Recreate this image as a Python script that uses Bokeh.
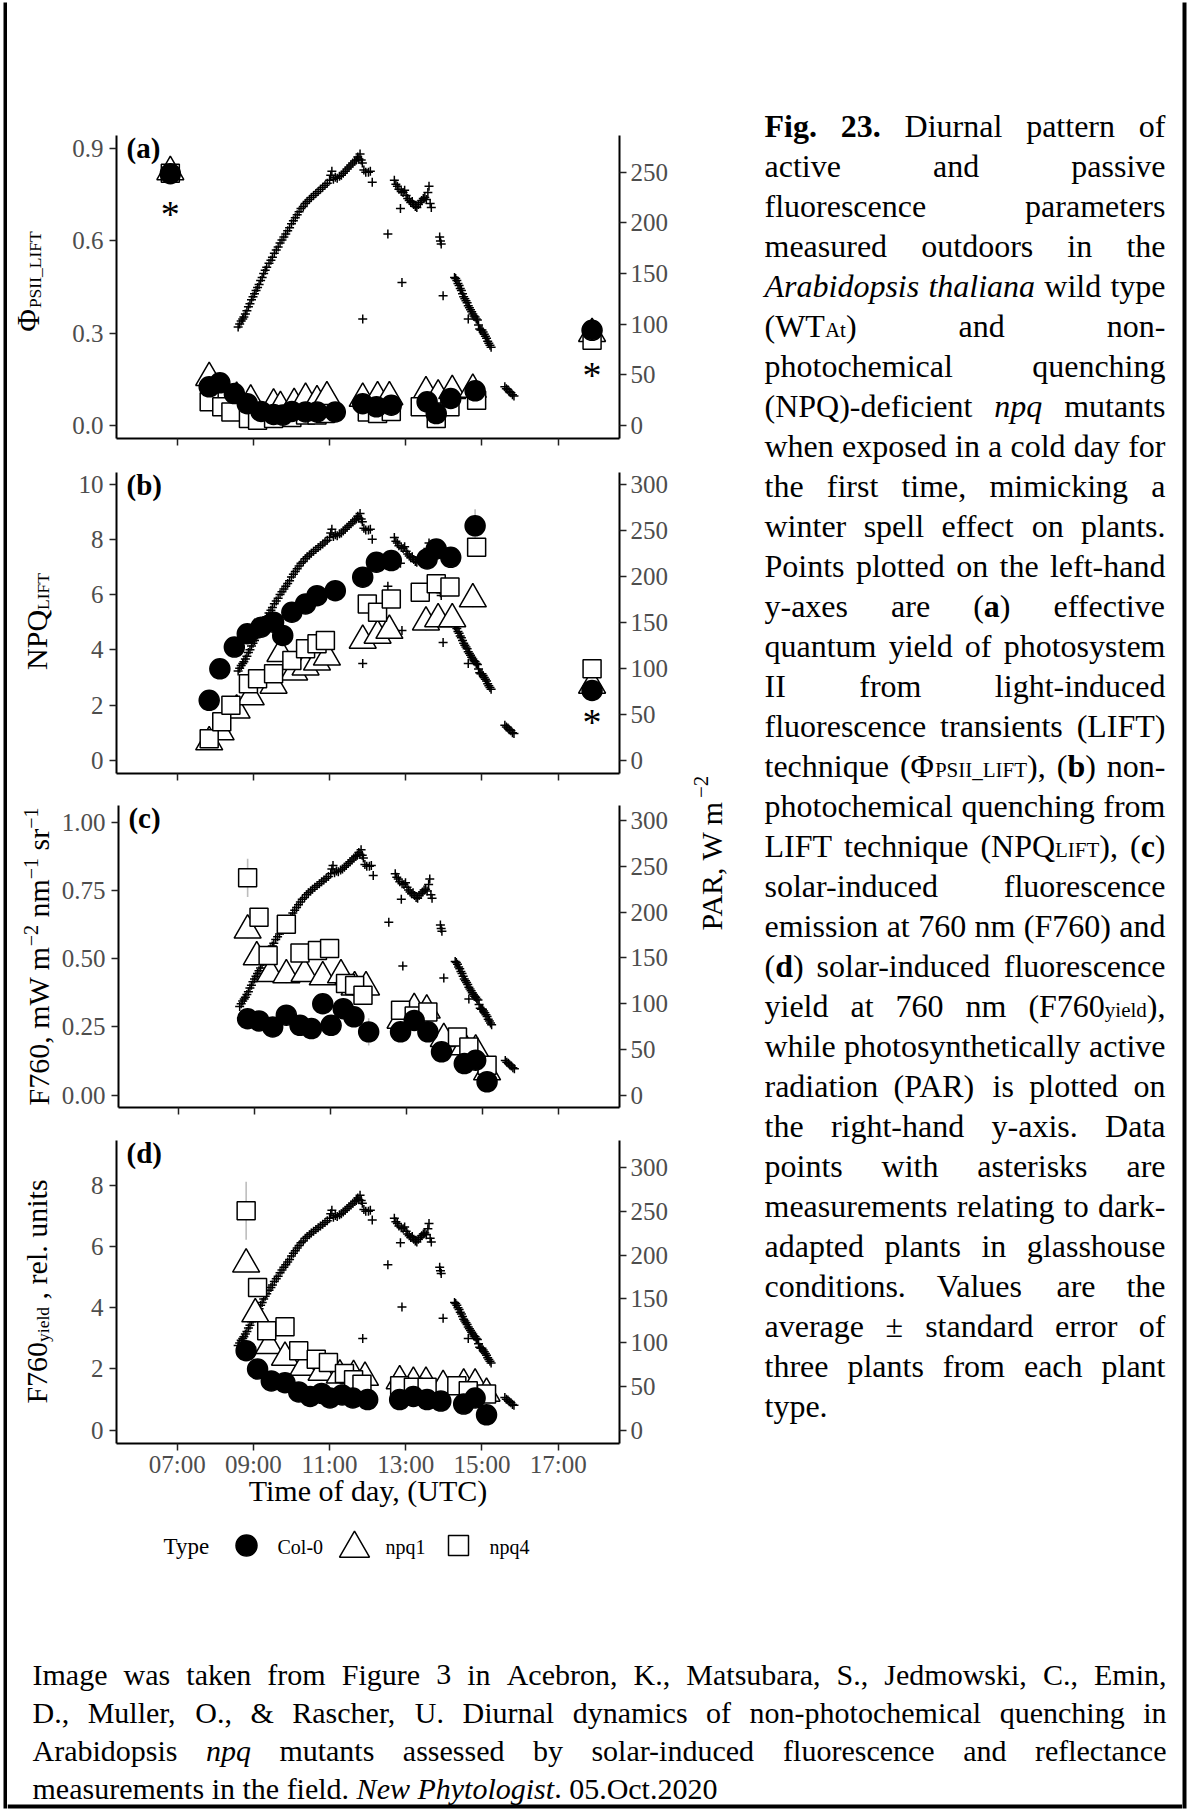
import math, re
from bokeh.plotting import figure
from bokeh.models import Range1d, LinearAxis, FixedTicker, Label, PrintfTickFormatter
from bokeh.layouts import column, row
from bokeh.embed import file_html
from bokeh.resources import INLINE
from bokeh.core.properties import value

# ====================== DATA ======================
hour_ticks = [7, 9, 11, 13, 15, 17]
hour_labels = ["07:00", "09:00", "11:00", "13:00", "15:00", "17:00"]
plant_types = ["Col-0", "npq1", "npq4"]
x_title = "Time of day, (UTC)"

# PAR (W m-2), right-hand axis, time in hours UTC
par_t = [8.60, 8.64, 8.68, 8.72, 8.75, 8.79, 8.83, 8.87, 8.91, 8.95, 8.99, 9.03, 9.07, 9.11, 9.15, 9.19,
         9.23, 9.27, 9.31, 9.35, 9.41, 9.46, 9.50, 9.55, 9.60, 9.65, 9.70, 9.75, 9.80, 9.85, 9.90, 9.95,
         10.00, 10.05, 10.10, 10.15, 10.20, 10.25, 10.31, 10.36, 10.41, 10.47, 10.52, 10.58, 10.64, 10.70,
         10.76, 10.82, 10.88, 10.94, 11.00, 11.03, 11.06, 11.10, 11.15, 11.20, 11.26, 11.31, 11.36, 11.41,
         11.46, 11.51, 11.56, 11.61, 11.66, 11.70, 11.74, 11.77, 11.80, 11.83, 11.86, 11.87, 11.90, 11.95,
         12.02, 12.07, 12.12, 12.53, 12.70, 12.74, 12.78, 12.82, 12.86, 12.88, 12.90, 12.93, 12.97, 13.01,
         13.05, 13.09, 13.13, 13.17, 13.21, 13.25, 13.29, 13.33, 13.38, 13.42, 13.46, 13.50, 13.54, 13.58,
         13.61, 13.64, 13.67, 13.89, 13.91, 13.93, 13.98, 14.28, 14.31, 14.34, 14.37, 14.40, 14.43, 14.46,
         14.49, 14.52, 14.55, 14.58, 14.61, 14.64, 14.64, 14.67, 14.70, 14.73, 14.76, 14.79, 14.82, 14.85,
         14.88, 14.91, 14.94, 14.97, 15.00, 15.03, 15.06, 15.09, 15.12, 15.15, 15.18, 15.21, 15.24, 15.60,
         15.64, 15.68, 15.72, 15.76, 15.80, 15.84]
par_v = [97, 100, 103, 105, 107, 110, 113, 117, 120, 124, 127, 130, 133, 136, 139, 143,
         146, 150, 153, 156, 160, 163, 166, 170, 173, 176, 180, 183, 186, 189, 192, 195,
         199, 202, 205, 208, 211, 214, 216, 219, 221, 223, 225, 227, 229, 231,
         233, 235, 237, 239, 242, 247, 251, 243, 245, 244, 246, 247, 249, 251,
         253, 255, 257, 259, 261, 262, 265, 263, 268, 262, 259, 105, 252, 250,
         250, 251, 240, 189, 242, 238, 236, 233, 214, 231, 141, 230, 232, 227,
         224, 222, 220, 221, 218, 216, 215, 218, 220, 222, 224, 225, 223, 230,
         236, 219, 215, 186, 182, 179, 128, 146, 145, 143, 140, 138, 135, 133,
         130, 127, 125, 123, 121, 118, 105, 116, 114, 112, 110, 108, 107, 105,
         104, 99, 95, 94, 94, 92, 90, 88, 86, 83, 81, 79, 77, 38,
         36, 35, 33, 32, 30, 29]

# LIFT measurements (panels a, b)
lift_t_col = [7.84, 8.12, 8.50, 8.84, 9.20, 9.53, 9.77, 10.01, 10.37, 10.67, 11.15, 11.87, 12.23, 12.62, 13.56, 13.80, 14.18, 14.82]
phi_col = [0.125, 0.138, 0.103, 0.070, 0.045, 0.035, 0.033, 0.045, 0.043, 0.043, 0.043, 0.070, 0.060, 0.065, 0.076, 0.038, 0.087, 0.112]
phi_col_se = [0.01, 0.01, 0.01, 0.01, 0.005, 0.005, 0.005, 0.005, 0.005, 0.005, 0.005, 0.01, 0.01, 0.01, 0.01, 0.01, 0.01, 0.01]
npq_col = [2.17, 3.31, 4.10, 4.58, 4.82, 5.00, 4.52, 5.36, 5.66, 5.96, 6.14, 6.63, 7.17, 7.23, 7.29, 7.65, 7.35, 8.49]
npq_col_se = [0.25, 0.15, 0.15, 0.20, 0.15, 0.20, 0.20, 0.15, 0.15, 0.20, 0.20, 0.25, 0.20, 0.20, 0.25, 0.30, 0.25, 0.60]

lift_t_npq1 = [7.84, 8.14, 8.56, 8.93, 9.53, 9.71, 10.07, 10.37, 10.67, 10.93, 11.87, 12.26, 12.57, 13.53, 13.85, 14.22, 14.76]
phi_npq1 = [0.155, 0.110, 0.090, 0.081, 0.068, 0.060, 0.070, 0.087, 0.079, 0.092, 0.087, 0.092, 0.092, 0.108, 0.098, 0.112, 0.116]
phi_npq1_se = [0.01, 0.01, 0.01, 0.01, 0.005, 0.005, 0.005, 0.005, 0.005, 0.005, 0.01, 0.01, 0.01, 0.01, 0.01, 0.01, 0.01]
npq_npq1 = [0.66, 1.02, 1.81, 2.29, 2.71, 3.86, 3.19, 3.37, 3.55, 3.73, 4.34, 4.52, 4.70, 5.00, 5.12, 5.12, 5.84]
npq_npq1_se = [0.15, 0.15, 0.20, 0.20, 0.20, 0.25, 0.20, 0.20, 0.20, 0.20, 0.25, 0.25, 0.25, 0.30, 0.30, 0.30, 0.30]

lift_t_npq4 = [7.84, 8.17, 8.41, 8.87, 9.11, 9.53, 10.01, 10.37, 10.67, 10.89, 11.99, 12.26, 12.62, 13.38, 13.80, 14.16, 14.86]
phi_npq4 = [0.076, 0.060, 0.043, 0.022, 0.016, 0.022, 0.025, 0.033, 0.033, 0.038, 0.043, 0.038, 0.045, 0.060, 0.022, 0.060, 0.081]
phi_npq4_se = [0.01, 0.01, 0.005, 0.005, 0.005, 0.005, 0.005, 0.005, 0.005, 0.005, 0.005, 0.005, 0.005, 0.01, 0.005, 0.01, 0.01]
npq_npq4 = [0.78, 1.39, 1.99, 2.77, 2.95, 3.13, 3.61, 4.04, 4.22, 4.34, 5.66, 5.36, 5.84, 6.08, 6.39, 6.27, 7.71]
npq_npq4_se = [0.15, 0.20, 0.20, 0.20, 0.20, 0.20, 0.20, 0.25, 0.25, 0.25, 0.30, 0.30, 0.30, 0.30, 0.35, 0.30, 0.30]

# dark-adapted glasshouse measurements (asterisks)
dark_t = [6.82, 17.89]
dark_phi_col = [0.819, 0.309]
dark_phi_npq1 = [0.825, 0.298]
dark_phi_npq4 = [0.820, 0.277]
dark_npq_t = [17.89]
dark_npq_col = [2.53]
dark_npq_npq1 = [2.71]
dark_npq_npq4 = [3.31]
ast_phi_t = [6.82, 17.89]
ast_phi_y = [0.710, 0.184]
ast_npq_t = [17.89]
ast_npq_y = [1.63]

# SIF measurements (panels c, d)
sif_t_col = [8.81, 9.11, 9.47, 9.83, 10.19, 10.49, 10.79, 11.01, 11.33, 11.61, 12.00, 12.84, 13.20, 13.56, 13.92, 14.52, 14.82, 15.12]
f760_col = [0.280, 0.272, 0.250, 0.293, 0.256, 0.244, 0.335, 0.256, 0.317, 0.287, 0.232, 0.232, 0.274, 0.232, 0.159, 0.116, 0.128, 0.049]
f760_col_se = [0.01, 0.01, 0.01, 0.02, 0.01, 0.01, 0.02, 0.01, 0.02, 0.02, 0.05, 0.02, 0.02, 0.02, 0.02, 0.02, 0.02, 0.01]
f760y_col = [2.60, 2.00, 1.61, 1.55, 1.25, 1.10, 1.20, 1.05, 1.15, 1.05, 1.00, 1.00, 1.10, 1.00, 0.95, 0.85, 1.05, 0.50]
f760y_col_se = [0.15, 0.10, 0.10, 0.10, 0.10, 0.05, 0.10, 0.05, 0.10, 0.10, 0.15, 0.10, 0.10, 0.10, 0.10, 0.10, 0.10, 0.05]

sif_t_npq1 = [8.81, 9.05, 9.41, 9.83, 10.31, 10.79, 11.27, 11.63, 11.93, 12.84, 13.20, 13.53, 13.98, 14.52, 14.82, 15.12]
f760_npq1 = [0.604, 0.506, 0.445, 0.440, 0.445, 0.433, 0.440, 0.396, 0.396, 0.274, 0.317, 0.311, 0.207, 0.177, 0.165, 0.085]
f760_npq1_se = [0.03, 0.02, 0.02, 0.03, 0.02, 0.02, 0.03, 0.02, 0.02, 0.02, 0.02, 0.02, 0.02, 0.02, 0.02, 0.01]
f760y_npq1 = [5.43, 3.80, 2.76, 2.38, 2.05, 1.89, 1.80, 1.78, 1.72, 1.61, 1.56, 1.56, 1.45, 1.50, 1.50, 1.20]
f760y_npq1_se = [0.25, 0.20, 0.15, 0.15, 0.10, 0.10, 0.10, 0.10, 0.10, 0.10, 0.10, 0.10, 0.10, 0.10, 0.10, 0.10]

sif_t_npq4 = [8.81, 9.11, 9.35, 9.83, 10.19, 10.65, 10.97, 11.39, 11.63, 11.85, 12.84, 13.20, 13.56, 14.34, 14.64, 15.12]
f760_npq4 = [0.796, 0.652, 0.512, 0.626, 0.521, 0.530, 0.537, 0.409, 0.402, 0.366, 0.311, 0.290, 0.305, 0.213, 0.177, 0.110]
f760_npq4_se = [0.07, 0.02, 0.02, 0.02, 0.02, 0.02, 0.02, 0.03, 0.02, 0.02, 0.02, 0.02, 0.02, 0.02, 0.02, 0.02]
f760y_npq4 = [7.18, 4.67, 3.25, 3.38, 2.60, 2.32, 2.21, 1.85, 1.65, 1.50, 1.45, 1.40, 1.40, 1.45, 1.29, 1.18]
f760y_npq4_se = [0.95, 0.20, 0.15, 0.15, 0.10, 0.10, 0.10, 0.10, 0.10, 0.10, 0.10, 0.10, 0.10, 0.10, 0.10, 0.10]

caption_lines = [
    "{b:Fig.} {b:23.} Diurnal pattern of",
    "active and passive",
    "fluorescence parameters",
    "measured outdoors in the",
    "{i:Arabidopsis} {i:thaliana} wild type",
    "(WT{s:At}) and non-",
    "photochemical quenching",
    "(NPQ)-deficient {i:npq} mutants",
    "when exposed in a cold day for",
    "the first time, mimicking a",
    "winter spell effect on plants.",
    "Points plotted on the left-hand",
    "y-axes are ({b:a}) effective",
    "quantum yield of photosystem",
    "II from light-induced",
    "fluorescence transients (LIFT)",
    "technique (\u03a6{s:PSII_LIFT}), ({b:b}) non-",
    "photochemical quenching from",
    "LIFT technique (NPQ{s:LIFT}), ({b:c})",
    "solar-induced fluorescence",
    "emission at 760 nm (F760) and",
    "({b:d}) solar-induced fluorescence",
    "yield at 760 nm (F760{s:yield}),",
    "while photosynthetically active",
    "radiation (PAR) is plotted on",
    "the right-hand y-axis. Data",
    "points with asterisks are",
    "measurements relating to dark-",
    "adapted plants in glasshouse",
    "conditions. Values are the",
    "average \u00b1 standard error of",
    "three plants from each plant",
    "type.",
]
citation_lines = [
    "Image was taken from Figure 3 in Acebron, K., Matsubara, S., Jedmowski, C., Emin,",
    "D., Muller, O., & Rascher, U. Diurnal dynamics of non-photochemical quenching in",
    "Arabidopsis {i:npq} mutants assessed by solar-induced fluorescence and reflectance",
    "measurements in the field. {i:New} {i:Phytologist}. 05.Oct.2020",
]

# ====================== FONT METRICS (Times / Liberation Serif) ======================
FONT = "Liberation Serif"
GREY = "#4D4D4D"
BFIX = 0.30   # empirical baseline correction (em)
TR = {" ": 250, "!": 333, "&": 778, "'": 333, "(": 333, ")": 333, "*": 500, "+": 564, ",": 250,
      "-": 333, ".": 250, "/": 278, ":": 278, ";": 278, "?": 444, "_": 500, "\u00b1": 564,
      "\u2212": 564, "\u03a6": 760}
for _c in "0123456789":
    TR[_c] = 500
TR.update(dict(A=722, B=667, C=667, D=722, E=611, F=556, G=722, H=722, I=333, J=389, K=722, L=611, M=889,
               N=722, O=722, P=556, Q=722, R=667, S=556, T=611, U=722, V=722, W=944, X=722, Y=722, Z=611))
TR.update(dict(a=444, b=500, c=444, d=500, e=444, f=333, g=500, h=500, i=278, j=278, k=500, l=278, m=778,
               n=500, o=500, p=500, q=500, r=333, s=389, t=278, u=500, v=500, w=722, x=500, y=500, z=444))
TB = {" ": 250, "(": 333, ")": 333, ".": 250, "F": 611, "a": 500, "b": 556, "c": 444, "d": 556,
      "g": 500, "i": 278}
for _c in "0123456789":
    TB[_c] = 500
TI = {" ": 250, ".": 250, "A": 611, "N": 667, "P": 611, "a": 500, "b": 500, "d": 500, "e": 444, "g": 500,
      "h": 500, "i": 278, "l": 278, "n": 500, "o": 500, "p": 500, "q": 500, "r": 389, "s": 389,
      "t": 278, "w": 667, "y": 444}


def text_w(text, style, size):
    tbl = TB if style == "b" else (TI if style == "i" else TR)
    return sum(tbl.get(ch, TR.get(ch, 500)) for ch in text) * size / 1000.0


# ====================== PAGE GEOMETRY (px) ======================
PAGE_W, PAGE_H = 1189, 1810
IN_L, IN_R, IN_T, IN_B = 7, 1182, 6, 1804
TT_R = 58              # right edge of the y-title strips
COL_R = 685            # right edge of the chart column
ROW_B = 1570           # bottom of chart column / caption
FR_L, FR_R = 116, 619  # plot frame edges
X_RANGE = (5.407, 18.61)
LEG_TOP = 1514


def to_dx(px):
    return X_RANGE[0] + (px - FR_L) * (X_RANGE[1] - X_RANGE[0]) / (FR_R - FR_L)


def style_axis(ax, standoff):
    ax.axis_line_width = 2
    ax.axis_line_color = "black"
    ax.major_tick_line_width = 1.5
    ax.major_tick_line_color = "#222222"
    ax.major_tick_out = 7
    ax.major_tick_in = 0
    ax.minor_tick_line_color = None
    ax.major_label_text_font = FONT
    ax.major_label_text_font_size = "25px"
    ax.major_label_text_color = GREY
    ax.major_label_standoff = standoff


def make_panel(fig_top, fig_bot, T, B, yr, ryr, lticks, lfmt, rticks, xlabels):
    p = figure(width=COL_R - TT_R, height=fig_bot - fig_top,
               x_range=Range1d(*X_RANGE), y_range=Range1d(*yr),
               x_axis_type=None, y_axis_type=None, tools="",
               output_backend="svg", toolbar_location=None,
               min_border=0, min_border_left=FR_L - TT_R, min_border_right=COL_R - FR_R,
               min_border_top=T - fig_top, min_border_bottom=fig_bot - B)
    p.outline_line_color = None
    p.background_fill_color = "white"
    p.border_fill_color = "white"
    p.extra_y_ranges = {"par": Range1d(*ryr)}
    if xlabels:
        xa = LinearAxis(ticker=FixedTicker(ticks=hour_ticks),
                        major_label_overrides=dict(zip(hour_ticks, hour_labels)))
        style_axis(xa, 0)
        xa.axis_label = x_title
        xa.axis_label_text_font = FONT
        xa.axis_label_text_font_size = "30px"
        xa.axis_label_text_font_style = "normal"
        xa.axis_label_text_color = "black"
        xa.axis_label_standoff = -7
    else:
        xa = LinearAxis(ticker=FixedTicker(ticks=[], minor_ticks=hour_ticks))
        style_axis(xa, 0)
        xa.minor_tick_out = 7
        xa.minor_tick_in = 0
        xa.minor_tick_line_width = 1.5
        xa.minor_tick_line_color = "#222222"
    p.add_layout(xa, "below")
    ya = LinearAxis(ticker=FixedTicker(ticks=lticks), formatter=PrintfTickFormatter(format=lfmt))
    style_axis(ya, 6)
    p.add_layout(ya, "left")
    ra = LinearAxis(y_range_name="par", ticker=FixedTicker(ticks=rticks))
    style_axis(ra, 4)
    p.add_layout(ra, "right")

    def ty(py):
        return yr[0] + (B - py) * (yr[1] - yr[0]) / (B - T)

    def py_of(v):
        return B - (v - yr[0]) * (B - T) / (yr[1] - yr[0])
    return p, ty, py_of


def make_title_fig(fig_top, fig_bot, T, B):
    t = figure(width=TT_R - IN_L, height=fig_bot - fig_top, x_range=Range1d(IN_L, TT_R),
               y_range=Range1d(B, T), x_axis_type=None, y_axis_type=None, tools="",
               output_backend="svg", toolbar_location=None, min_border=0,
               min_border_top=T - fig_top, min_border_bottom=fig_bot - B)
    t.outline_line_color = None
    return t


def add_label(p, x, y, text, size, style="normal", color="black", angle=0.0, align="left"):
    p.add_layout(Label(x=x, y=y, text=text, text_font=FONT, text_font_size="%.1fpx" % size,
                       text_font_style=style, text_color=color, angle=angle, angle_units="rad",
                       text_align=align, text_baseline="alphabetic"))


def rotated_title(p, bx, cy, runs):
    # page coordinates; text reads bottom-to-top; shift>0 lowers a run (moves right)
    total = sum(text_w(t, "r", sz) for t, sz, sh in runs)
    y = cy + total / 2.0
    for t, sz, sh in runs:
        if t.startswith(" "):
            y -= text_w(" ", "r", sz)
            t = t[1:]
        add_label(p, bx + sh - BFIX * sz, y, t, sz, angle=math.pi / 2)
        y -= text_w(t, "r", sz)


GENO = {"Col-0": ("circle", 20, "black"), "npq1": ("triangle", 27, "white"), "npq4": ("square", 18, "white")}
ERR_COLOR = "#BDBDBD"


def draw_panel_data(p, series, dark=None):
    p.scatter(par_t, par_v, marker="cross", size=9, line_color="black", line_width=1.5, y_range_name="par")
    for name, t, v, se in series:
        lo = [a - b for a, b in zip(v, se)]
        hi = [a + b for a, b in zip(v, se)]
        p.segment(t, lo, t, hi, line_color=ERR_COLOR, line_width=1.6)
    for order in ["npq1", "npq4", "Col-0"]:
        for name, t, v, se in series:
            if name == order:
                m, s, f = GENO[name]
                p.scatter(t, v, marker=m, size=s, fill_color=f, line_color="black", line_width=1.5)
        if dark:
            for name, t, v in dark:
                if name == order:
                    m, s, f = GENO[name]
                    p.scatter(t, v, marker=m, size=s, fill_color=f, line_color="black", line_width=1.5)


PAR_TICKS = [0, 50, 100, 150, 200, 250, 300]
specs = [
    dict(key="a", fig=(IN_T, 455), frame=(135, 438), yr=(-0.0433, 0.9433), ryr=(-13.1, 286.2),
         lt=[0, 0.3, 0.6, 0.9], fmt="%.1f", rt=[0, 50, 100, 150, 200, 250]),
    dict(key="b", fig=(455, 789), frame=(472, 773), yr=(-0.48, 10.42), ryr=(-14.4, 312.6),
         lt=[0, 2, 4, 6, 8, 10], fmt="%d", rt=PAR_TICKS),
    dict(key="c", fig=(789, 1124), frame=(805, 1107), yr=(-0.045, 1.061), ryr=(-13.4, 316.4),
         lt=[0, 0.25, 0.5, 0.75, 1.0], fmt="%.2f", rt=PAR_TICKS),
    dict(key="d", fig=(1124, LEG_TOP), frame=(1140, 1443), yr=(-0.439, 9.48), ryr=(-14.5, 330.4),
         lt=[0, 2, 4, 6, 8], fmt="%d", rt=PAR_TICKS),
]

panel_series = {
    "a": [("Col-0", lift_t_col, phi_col, phi_col_se), ("npq1", lift_t_npq1, phi_npq1, phi_npq1_se),
          ("npq4", lift_t_npq4, phi_npq4, phi_npq4_se)],
    "b": [("Col-0", lift_t_col, npq_col, npq_col_se), ("npq1", lift_t_npq1, npq_npq1, npq_npq1_se),
          ("npq4", lift_t_npq4, npq_npq4, npq_npq4_se)],
    "c": [("Col-0", sif_t_col, f760_col, f760_col_se), ("npq1", sif_t_npq1, f760_npq1, f760_npq1_se),
          ("npq4", sif_t_npq4, f760_npq4, f760_npq4_se)],
    "d": [("Col-0", sif_t_col, f760y_col, f760y_col_se), ("npq1", sif_t_npq1, f760y_npq1, f760y_npq1_se),
          ("npq4", sif_t_npq4, f760y_npq4, f760y_npq4_se)],
}
panel_dark = {
    "a": [("Col-0", dark_t, dark_phi_col), ("npq1", dark_t, dark_phi_npq1), ("npq4", dark_t, dark_phi_npq4)],
    "b": [("Col-0", dark_npq_t, dark_npq_col), ("npq1", dark_npq_t, dark_npq_npq1), ("npq4", dark_npq_t, dark_npq_npq4)],
}
panel_ast = {"a": (ast_phi_t, ast_phi_y), "b": (ast_npq_t, ast_npq_y)}
panel_titles = {
    "a": (37, 281, [("\u03a6", 31, 0), ("PSII_LIFT", 17.5, 3)]),
    "b": (45, 621, [("NPQ", 30, 0), ("LIFT", 17.5, 3)]),
    "c": (47, 956, [("F760, mW m", 30, 0), ("\u22122", 20, -11), (" nm", 30, 0), ("\u22121", 20, -11),
                    (" sr", 30, 0), ("\u22121", 20, -11)]),
    "d": (45, 1291, [("F760", 30, 0), ("yield", 17.5, 3), (" , rel. units", 30, 0)]),
}

rows = []
for sp in specs:
    k = sp["key"]
    T, B = sp["frame"]
    p, ty, py_of = make_panel(sp["fig"][0], sp["fig"][1], T, B, sp["yr"], sp["ryr"], sp["lt"], sp["fmt"],
                              sp["rt"], xlabels=(k == "d"))
    draw_panel_data(p, panel_series[k], panel_dark.get(k))
    if k in panel_ast:
        at, ay = panel_ast[k]
        base = [ty(py_of(v) + 18 - BFIX * 38) for v in ay]
        p.text(x=at, y=base, text=["*"] * len(at), text_font=value(FONT), text_font_size="38px",
               text_align="center", text_baseline="alphabetic", text_color="black")
    add_label(p, to_dx(126), ty(T + 21 - BFIX * 29), "(%s)" % k, 29, style="bold")
    tf = make_title_fig(sp["fig"][0], sp["fig"][1], T, B)
    bx, cy, runs = panel_titles[k]
    rotated_title(tf, bx, cy, runs)
    rows.append(row(tf, p, spacing=0))

# ---------------- legend strip ----------------
leg = figure(width=COL_R - IN_L, height=ROW_B - LEG_TOP, x_range=Range1d(FR_L, FR_R),
             y_range=Range1d(ROW_B, LEG_TOP), x_axis_type=None, y_axis_type=None, tools="",
             output_backend="svg", toolbar_location=None, min_border=0,
             min_border_left=FR_L - IN_L, min_border_right=COL_R - FR_R)
leg.outline_line_color = None
LEG_Y = 1545
leg_mark_x = [246, 354, 458]
leg_text_x = [277, 385, 489]
leg.text(x=[163], y=[LEG_Y + 8 - BFIX * 23], text=["Type"], text_font=value(FONT), text_font_size="23px",
         text_baseline="alphabetic", text_align="left", text_color="black")
for name, mx in zip(plant_types, leg_mark_x):
    m, s, f = GENO[name]
    s2 = {"Col-0": 21, "npq1": 30, "npq4": 20}[name]
    dy = 3 if name == "npq1" else 0
    leg.scatter([mx], [LEG_Y + dy], marker=m, size=s2, fill_color=f, line_color="black", line_width=1.5)
leg.text(x=leg_text_x, y=[LEG_Y + 7 - BFIX * 20] * 3, text=plant_types, text_font=value(FONT),
         text_font_size="20px", text_baseline="alphabetic", text_align="left", text_color="black")


# ---------------- paragraphs ----------------
TOKEN = re.compile(r"\{([bis]):([^}]*)\}|([^{}]+)")


def parse_word(w):
    runs = []
    for m in TOKEN.finditer(w):
        if m.group(1):
            runs.append((m.group(1), m.group(2)))
        else:
            runs.append(("r", m.group(3)))
    return runs


def set_paragraph(lines, x0, x1, base0, dy, size, sub_size, sub_shift, justify_last=False):
    out = {k: ([], [], []) for k in "rbis"}
    n = len(lines)
    for k, line in enumerate(lines):
        words = [parse_word(w) for w in line.split()]
        wid = [sum(text_w(t, st, sub_size if st == "s" else size) for st, t in w) for w in words]
        if len(words) > 1 and (k < n - 1 or justify_last):
            gap = (x1 - x0 - sum(wid)) / (len(words) - 1)
        else:
            gap = 0.25 * size
        x = x0
        yb = base0 + k * dy - BFIX * size
        for w, ww in zip(words, wid):
            xx = x
            for st, t in w:
                xs, ys, ts = out[st]
                xs.append(xx)
                ys.append(yb + (sub_shift if st == "s" else 0))
                ts.append(t)
                xx += text_w(t, st, sub_size if st == "s" else size)
            x += ww + gap
    return out


def draw_paragraph(p, out, size, sub_size):
    for st, (xs, ys, ts) in out.items():
        if not xs:
            continue
        p.text(x=xs, y=ys, text=ts, text_font=value(FONT),
               text_font_size="%.1fpx" % (sub_size if st == "s" else size),
               text_font_style={"b": "bold", "i": "italic"}.get(st, "normal"),
               text_align="left", text_baseline="alphabetic", text_color="black")


cap = figure(width=IN_R - COL_R, height=ROW_B - IN_T, x_range=Range1d(COL_R, IN_R),
             y_range=Range1d(ROW_B, IN_T), x_axis_type=None, y_axis_type=None, tools="",
             output_backend="svg", toolbar_location=None, min_border=0)
cap.outline_line_color = None
draw_paragraph(cap, set_paragraph(caption_lines, 764, 1165, 135.5, 40, 32, 21, 4), 32, 21)
# shared right-hand axis title
par_runs = [("PAR, W m", 30, 0), ("\u22122", 21, -13)]
yy = 930.0
for t, sz, sh in par_runs:
    cap.add_layout(Label(x=720 + sh - BFIX * sz, y=yy, text=t, text_font=FONT, text_font_size="%dpx" % sz,
                         text_color="black", angle=math.pi / 2, text_align="left",
                         text_baseline="alphabetic"))
    yy -= text_w(t, "r", sz)

# citation block (extends to the page bottom; carries the bottom frame line)
cit = figure(width=IN_R - IN_L, height=PAGE_H - ROW_B, x_range=Range1d(IN_L, IN_R),
             y_range=Range1d(PAGE_H, ROW_B), x_axis_type=None, y_axis_type=None, tools="",
             output_backend="svg", toolbar_location=None, min_border=0)
cit.outline_line_color = None
cit.quad(left=[IN_L], right=[IN_R], top=[IN_B], bottom=[IN_B + 4], fill_color="black", line_color=None)
draw_paragraph(cit, set_paragraph(citation_lines, 32, 1166, 1683, 38, 30, 20, 4), 30, 20)


# ---------------- border strips ----------------
def strip(w, h, l, r, t, b):
    s = figure(width=w, height=h, x_range=Range1d(0, 1), y_range=Range1d(0, 1),
               x_axis_type=None, y_axis_type=None, tools="", output_backend="svg",
               toolbar_location=None, min_border=0, min_border_left=l, min_border_right=r,
               min_border_top=t, min_border_bottom=b)
    s.background_fill_color = "black"
    s.border_fill_color = "white"
    s.outline_line_color = None
    return s


left_strip = strip(IN_L, PAGE_H, 3, 0, 2, 2)
right_strip = strip(PAGE_W - IN_R, PAGE_H, 0, 3, 2, 2)
top_strip = strip(IN_R - IN_L, IN_T, 0, 0, 2, 0)

left_col = column(rows[0], rows[1], rows[2], rows[3], leg, spacing=0)
mid = row(left_col, cap, spacing=0)
inner = column(top_strip, mid, cit, spacing=0)
page = row(left_strip, inner, right_strip, spacing=0)

html = file_html(page, INLINE, title="Diurnal pattern of fluorescence parameters")
with open("out.html", "w") as fh:
    fh.write(html)
